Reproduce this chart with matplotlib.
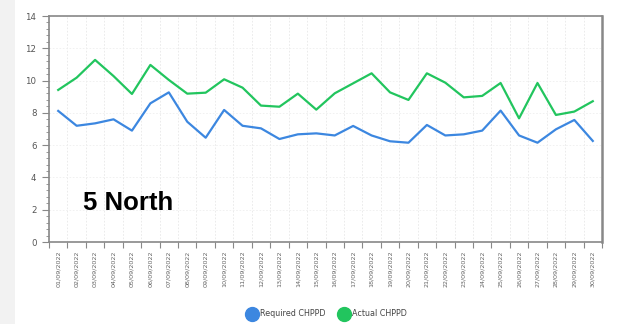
import numpy as np
import matplotlib.pyplot as plt
from matplotlib.lines import Line2D
from matplotlib.patches import Rectangle

dates = [f"{d:02d}/09/2022" for d in range(1, 31)]
required = [8.12, 7.20, 7.35, 7.60, 6.90, 8.59, 9.27, 7.45, 6.46, 8.18,
            7.20, 7.04, 6.38, 6.67, 6.73, 6.60, 7.19, 6.60, 6.24, 6.15,
            7.25, 6.60, 6.67, 6.90, 8.14, 6.60, 6.15, 6.98, 7.56, 6.26]
actual = [9.42, 10.18, 11.28, 10.28, 9.17, 10.97, 10.04, 9.19, 9.25, 10.08,
          9.56, 8.45, 8.38, 9.19, 8.20, 9.21, 9.83, 10.45, 9.27, 8.80,
          10.45, 9.87, 8.96, 9.05, 9.85, 7.66, 9.85, 7.87, 8.08, 8.72]
series_names = ["Required CHPPD", "Actual CHPPD"]
colors = ["#3C87E0", "#22C55E"]

fig = plt.figure(figsize=(6.23, 3.24), dpi=100)
fig.patches.append(Rectangle((0, 0), 15 / 623, 1, transform=fig.transFigure,
                             facecolor="#F2F2F2", edgecolor="none", zorder=-1))
ax = fig.add_axes([49 / 623, 82 / 324, 553 / 623, 226 / 324])

x = np.arange(len(dates))
ax.plot(x, required, color=colors[0], lw=1.6, solid_joinstyle="round")
ax.plot(x, actual, color=colors[1], lw=1.6, solid_joinstyle="round")

ax.set_xlim(-0.5, len(dates) - 0.5)
ax.set_ylim(0, 14)
ax.set_yticks(np.arange(0, 15, 2))
ax.set_yticks(np.arange(0, 14.01, 0.4), minor=True)
ax.set_xticks(x)
ax.set_xticklabels(dates, rotation=90, fontsize=4.6, color="#666666")
ax.set_xticks(np.arange(-0.5, len(dates), 1), minor=True)
ax.tick_params(axis="x", which="major", length=0, pad=6)
ax.tick_params(axis="x", which="minor", length=4, color="#888888", width=0.8)
ax.tick_params(axis="y", which="major", length=5, color="#888888", width=0.8,
               labelsize=6.2, labelcolor="#555555", pad=4)
ax.tick_params(axis="y", which="minor", length=2.5, color="#888888", width=0.6)

ax.grid(True, which="minor", axis="x", color="#E8E8E8", lw=0.6, ls=(0, (2, 2)))
ax.grid(True, which="major", axis="y", color="#EFEFEF", lw=0.6, ls=(0, (2, 2)))
ax.set_axisbelow(True)
for side, sp in ax.spines.items():
    sp.set_color("#888888")
    sp.set_linewidth(1.2)
ax.spines["right"].set_linewidth(1.8)

fig.text(83 / 623, 114 / 324, "5 North", fontsize=18.5, fontweight="bold",
         family="Liberation Sans", color="black", va="baseline", ha="left")

handles = [Line2D([], [], ls="none", marker="o", markersize=10,
                  markerfacecolor=c, markeredgecolor=c) for c in colors]
fig.legend(handles, series_names, loc="center", bbox_to_anchor=(327 / 623, 10 / 324),
           ncol=2, frameon=False, fontsize=5.8, labelcolor="#444444",
           handletextpad=0.5, columnspacing=1.6, handlelength=1.2)

fig.savefig("out.png", dpi=100)
